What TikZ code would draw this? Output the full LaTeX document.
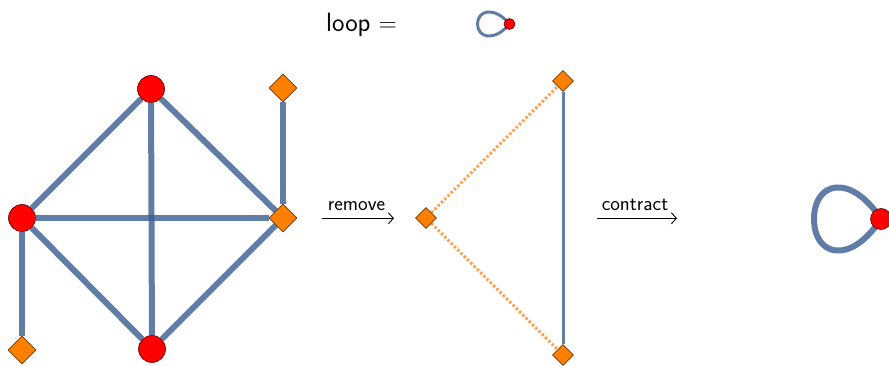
\documentclass[tikz,border=0pt]{standalone}
\usetikzlibrary{shapes.geometric,backgrounds,arrows.meta}
\definecolor{edgeblue}{RGB}{56,93,145}
\definecolor{nodeorange}{RGB}{255,128,0}
\definecolor{dotorange}{RGB}{255,160,75}
\definecolor{diaedge}{RGB}{110,55,0}
\definecolor{redline}{RGB}{90,0,0}
\begin{document}
\begin{tikzpicture}[x=1pt,y=-1pt,
  rednode/.style={circle,fill=red,draw=redline,line width=0.6pt,inner sep=0pt,minimum size=#1},
  dianode/.style={diamond,fill=nodeorange,draw=diaedge,line width=0.6pt,inner sep=0pt,minimum width=#1,minimum height=#1},
  thickedge/.style={draw=edgeblue,draw opacity=0.8,line width=6pt},
  thinedge/.style={draw=edgeblue,draw opacity=0.8,line width=3pt},
  dotedge/.style={draw=dotorange,line width=3pt,dash pattern=on 2.4pt off 2.2pt},
  arrowline/.style={-{Straight Barb[length=5pt,width=11pt,line width=0.9pt]},line width=0.7pt},
  lbl/.style={font=\sffamily\fontsize{20.5}{24}\selectfont,anchor=base,inner sep=0pt}
]
\useasboundingbox (0,0) rectangle (889,366);

% title
\node[font=\sffamily\fontsize{26.5}{31}\selectfont,anchor=base west,inner sep=0pt] (title) at (326,32) {loop $=$};
\node[rednode=11] (s) at (509.5,24) {};

% left graph
\node[rednode=27] (t) at (151,89) {};
\node[rednode=27] (l) at (22,218) {};
\node[rednode=27] (b) at (152,349) {};
\node[dianode=28] (tr) at (283,88) {};
\node[dianode=28] (r) at (283,218) {};
\node[dianode=28] (bl) at (22,350) {};

% middle graph
\node[dianode=21] (m) at (426,218) {};
\node[dianode=21] (mt) at (563,81) {};
\node[dianode=21] (mb) at (563,355) {};

% right loop
\node[rednode=21] (c) at (881,219) {};

% arrows
\coordinate (a1s) at (322,218.3);
\coordinate (a1e) at (394,218.3);
\coordinate (a2s) at (597,218.3);
\coordinate (a2e) at (677,218.3);
\draw[arrowline] (a1s) -- (a1e);
\draw[arrowline] (a2s) -- (a2e);
\node[lbl] (rem) at (356.5,210.7) {remove};
\node[lbl] (con) at (635,210.7) {contract};

\begin{scope}[on background layer]
  \draw[thickedge] (t) -- (l);
  \draw[thickedge] (t) -- (b);
  \draw[thickedge] (t) -- (r);
  \draw[thickedge] (l) -- (r);
  \draw[thickedge] (l) -- (b);
  \draw[thickedge] (l) -- (bl);
  \draw[thickedge] (b) -- (r);
  \draw[thickedge] (tr) -- (r);
  \draw[thinedge] (mt) -- (mb);
  \draw[dotedge] (m) -- (mt);
  \draw[dotedge] (m) -- (mb);
  \draw[thickedge] (c.center) .. controls +(-31,-47) and +(0,-37) .. (814,219)
                   .. controls +(0,37) and +(-31,47) .. (c.center);
  \draw[thinedge] (s.center) .. controls +(-15,-18) and +(0,-14) .. (477.5,24)
                   .. controls +(0,14) and +(-15,18) .. (s.center);
\end{scope}
\end{tikzpicture}
\end{document}
